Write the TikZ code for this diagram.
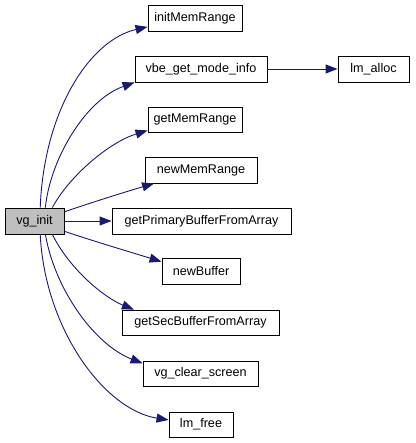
\documentclass[tikz,border=0pt]{standalone}
\usepackage{fontspec}
\setmainfont{Liberation Sans}
\usetikzlibrary{arrows.meta,calc}
\definecolor{edgeblue}{RGB}{25,25,112}
\definecolor{rootgray}{RGB}{191,191,191}
\begin{document}
\begin{tikzpicture}[x=1pt,y=-1pt,
  fn/.style={draw=black,line width=0.9pt,fill=white,inner sep=0pt,minimum height=26pt,font=\fontsize{12.6}{14}\selectfont},
  root/.style={fn,fill=rootgray},
  call/.style={draw=edgeblue,line width=0.9pt,-{Triangle[length=12pt,width=9pt]}}]
\useasboundingbox (0,0) rectangle (415,443);
\node[root,minimum width=59pt] (vg) at (34.5,221) {vg\_init};
\node[fn,minimum width=94pt] (im) at (195,18.5) {initMemRange};
\node[fn,minimum width=132pt] (vbe) at (201,69) {vbe\_get\_mode\_info};
\node[fn,minimum width=71pt] (la) at (373.5,69) {lm\_alloc};
\node[fn,minimum width=94pt,minimum height=25pt] (gm) at (195,119.5) {getMemRange};
\node[fn,minimum width=112pt] (nm) at (201,170) {newMemRange};
\node[fn,minimum width=179pt] (gp) at (201.5,221) {getPrimaryBufferFromArray};
\node[fn,minimum width=78pt] (nb) at (201,271.5) {newBuffer};
\node[fn,minimum width=157pt,minimum height=25pt] (gs) at (200.5,322.5) {getSecBufferFromArray};
\node[fn,minimum width=115pt,minimum height=25pt] (cs) at (200.5,373.5) {vg\_clear\_screen};
\node[fn,minimum width=64pt,minimum height=25pt] (lf) at (201,424.5) {lm\_free};
\draw[call] (vg.67) .. controls (44,110) and (90,40) .. (im.190);
\draw[call] (vg.51) .. controls (50,160) and (85,100) .. (vbe.south west);
\draw[call] (vbe.east) -- (la.west);
\draw[call] (vg.37) .. controls (70,175) and (110,142) .. (gm.193);
\draw[call] (vg.17) .. controls (90,203) and (125,192) .. (nm.196);
\draw[call] (vg.east) -- (gp.west);
\draw[call] (vg.-19) .. controls (90,240) and (130,252) .. (nb.166);
\draw[call] (vg.-37) .. controls (70,270) and (105,298) .. (gs.169);
\draw[call] (vg.-51) .. controls (55,290) and (95,345) .. (cs.170);
\draw[call] (vg.-67) .. controls (45,330) and (105,410) .. (lf.172);
\end{tikzpicture}
\end{document}
